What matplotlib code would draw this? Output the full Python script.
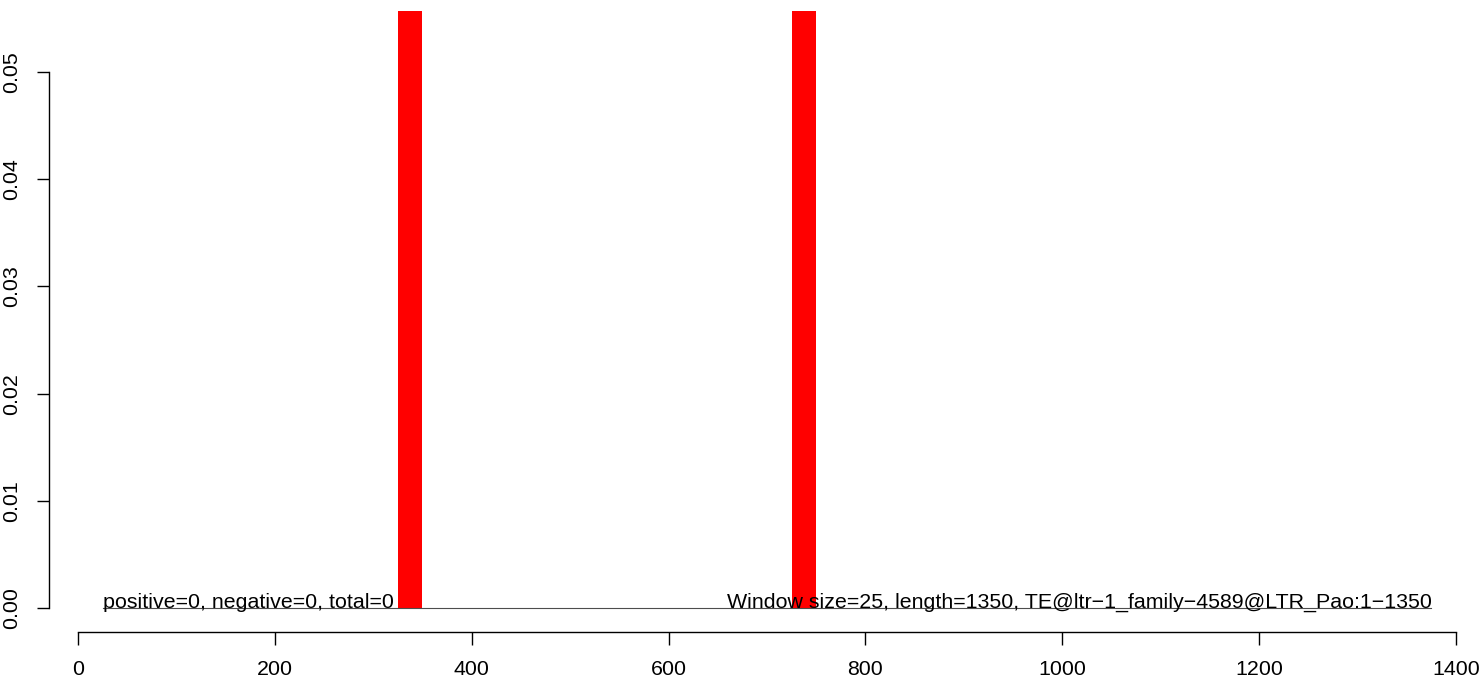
import matplotlib
matplotlib.use("Agg")
import matplotlib.pyplot as plt

# Data
bar_starts = [325, 725]
bar_width = 25
bar_heights = [0.06, 0.06]
line_x = [25, 1375]
line_y = [0, 0]
x_ticks = [0, 200, 400, 600, 800, 1000, 1200, 1400]
y_ticks = [0.00, 0.01, 0.02, 0.03, 0.04, 0.05]
y_tick_labels = ["0.00", "0.01", "0.02", "0.03", "0.04", "0.05"]
left_text = "positive=0, negative=0, total=0"
right_text = "Window size=25, length=1350, TE@ltr\u22121_family\u22124589@LTR_Pao:1\u22121350"

plt.rcParams['font.family'] = ['Liberation Sans', 'DejaVu Sans']

W, H = 1483, 683
FS = 15.4
fig = plt.figure(figsize=(W / 100, H / 100), dpi=100)
ax = fig.add_axes([49 / W, (H - 632) / H, (W - 49) / W, 621 / H])

ax.bar(bar_starts, bar_heights, width=bar_width, align='edge', color='#ff0000', linewidth=0)
ax.plot(line_x, line_y, color='#4d4d4d', linewidth=0.8)
ax.text(line_x[0], 0, left_text, ha='left', va='baseline', fontsize=FS)
ax.text(line_x[1], 0, right_text, ha='right', va='baseline', fontsize=FS)

px = 1400 / 1378.0
ax.set_xlim(-29 * px, -29 * px + (W - 49) * px)
ypx = 0.05 / 536.0
ax.set_ylim(-24 * ypx, 597 * ypx)

for s in ['top', 'right']:
    ax.spines[s].set_visible(False)
ax.spines['left'].set_bounds(0, 0.05)
ax.spines['bottom'].set_bounds(0, 1400)
ax.spines['left'].set_linewidth(1.0)
ax.spines['bottom'].set_linewidth(1.0)

ax.set_xticks(x_ticks)
ax.set_xticklabels([str(v) for v in x_ticks], fontsize=FS)
ax.set_yticks(y_ticks)
ax.set_yticklabels(y_tick_labels, fontsize=FS, rotation=90, va='center')
ax.tick_params(axis='both', length=9, width=1.0, direction='out')
ax.tick_params(axis='x', pad=11)
ax.tick_params(axis='y', pad=11)

fig.savefig("out.png", dpi=100)
